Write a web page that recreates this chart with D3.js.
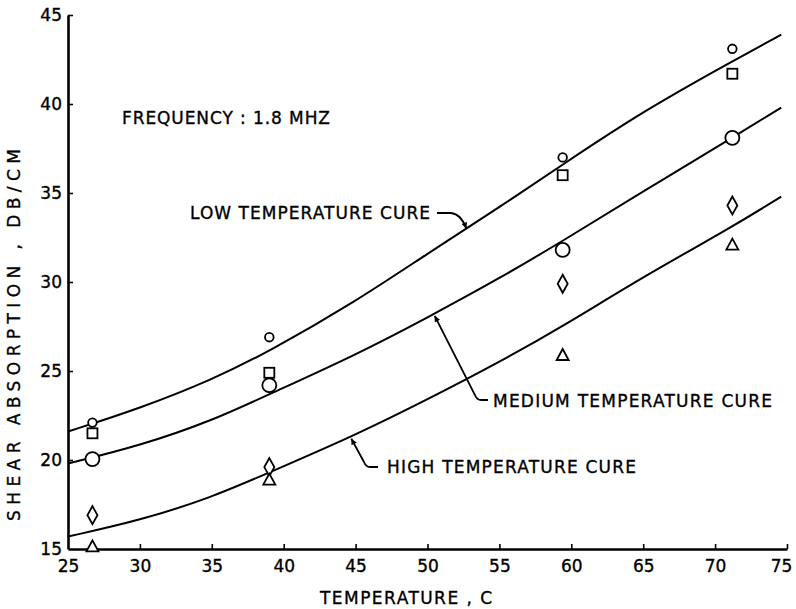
<!DOCTYPE html>
<html>
<head>
<meta charset="utf-8">
<script src="https://cdn.jsdelivr.net/npm/d3@7"></script>
<style>
  body { margin: 0; background: #fff; }
  svg { display: block; }
  text { font-family: "DejaVu Sans", "Liberation Sans", Arial, sans-serif; fill: #000; stroke: #000; stroke-width: 0.35px; }
</style>
</head>
<body>
<div id="chart"></div>
<script>
// measured points (temperature, C)
var temps = [26.7, 39, 59.4, 71.2];
var smallCircle = [22.1, 26.9, 37.0, 43.1];
var square = [21.5, 24.9, 36.0, 41.7];
var bigCircle = [20.05, 24.2, 31.8, 38.1];
var diamond = [16.9, 19.6, 29.9, 34.3];
var triangle = [15.15, 18.9, 25.9, 32.1];

// fitted curves
var curveT = [25, 30, 35, 39, 45, 50, 55, 59.4, 65, 71.2, 74.6];
var lowCurve = [21.6, 22.9, 24.5, 26.1, 28.9, 31.6, 34.2, 36.6, 39.6, 42.4, 43.9];
var medCurve = [19.8, 20.8, 22.2, 23.7, 25.9, 28.0, 30.2, 32.3, 35.1, 38.1, 39.8];
var highCurve = [15.7, 16.6, 17.9, 19.3, 21.4, 23.4, 25.5, 27.5, 30.3, 33.1, 34.8];

var xTicks = [25, 30, 35, 40, 45, 50, 55, 60, 65, 70, 75];
var yTicks = [15, 20, 25, 30, 35, 40, 45];

var W = 796, H = 609;
var svg = d3.select("#chart").append("svg")
    .attr("width", W)
    .attr("height", H);

var x = d3.scaleLinear().domain([25, 75]).range([68, 787]);
var y = d3.scaleLinear().domain([15, 45]).range([549, 15]);

// arrowhead
svg.append("defs").append("marker")
    .attr("id", "arr")
    .attr("viewBox", "0 0 10 10")
    .attr("refX", 10).attr("refY", 5)
    .attr("markerWidth", 9).attr("markerHeight", 6)
    .attr("markerUnits", "userSpaceOnUse")
    .attr("orient", "auto")
    .append("path")
    .attr("d", "M0,0 L10,5 L0,10 Z")
    .attr("fill", "#000");

// axes
var xAxis = svg.append("g")
    .attr("transform", `translate(0, ${y(15)})`)
    .call(d3.axisBottom(x).tickValues(xTicks).tickSize(-5).tickSizeOuter(0).tickPadding(11));
var yAxis = svg.append("g")
    .attr("transform", `translate(${x(25)}, 0)`)
    .call(d3.axisLeft(y).tickValues(yTicks).tickSize(-5).tickSizeOuter(0).tickPadding(6));

[xAxis, yAxis].forEach(a => {
    a.select(".domain").attr("stroke", "#000").attr("stroke-width", 2.6);
    a.selectAll(".tick line").attr("stroke", "#000").attr("stroke-width", 1.6);
    a.selectAll(".tick text")
        .style("font-family", "'DejaVu Sans', sans-serif")
        .style("font-size", "17px");
});
xAxis.selectAll(".tick").filter(d => d == 25).select("line").remove();
yAxis.selectAll(".tick").filter(d => d == 15).select("line").remove();
xAxis.selectAll(".tick").filter(d => d == 75).select("text").attr("dx", -6);

// axis titles
svg.append("text")
    .attr("x", 406).attr("y", 604)
    .attr("text-anchor", "middle")
    .attr("textLength", 172)
    .style("font-size", "17px")
    .text("TEMPERATURE , C");

svg.append("g")
    .attr("transform", `translate(20, 335)`)
    .append("text")
    .attr("transform", "rotate(-90)")
    .attr("text-anchor", "middle")
    .attr("textLength", 372)
    .style("font-size", "17px")
    .text("SHEAR  ABSORPTION , DB/CM");

// curves
var line = d3.line()
    .x(d => x(d[0]))
    .y(d => y(d[1]))
    .curve(d3.curveBasis);

[lowCurve, medCurve, highCurve].forEach(c => {
    svg.append("path")
        .datum(curveT.map((t, i) => [t, c[i]]))
        .attr("d", line)
        .attr("fill", "none")
        .attr("stroke", "#000")
        .attr("stroke-width", 2);
});

// markers
var marks = svg.append("g")
    .attr("fill", "#fff")
    .attr("stroke", "#000")
    .attr("stroke-width", 1.8);

function pts(vals) { return temps.map((t, i) => [x(t), y(vals[i])]); }

marks.selectAll(".sc").data(pts(smallCircle)).enter().append("circle")
    .attr("cx", d => d[0]).attr("cy", d => d[1]).attr("r", 4.3);

marks.selectAll(".sq").data(pts(square)).enter().append("rect")
    .attr("x", d => d[0] - 5).attr("y", d => d[1] - 5)
    .attr("width", 10).attr("height", 10);

marks.selectAll(".bc").data(pts(bigCircle)).enter().append("circle")
    .attr("cx", d => d[0]).attr("cy", d => d[1]).attr("r", 7);

marks.selectAll(".di").data(pts(diamond)).enter().append("path")
    .attr("d", d => `M${d[0]},${d[1] - 9} L${d[0] + 5},${d[1]} L${d[0]},${d[1] + 9} L${d[0] - 5},${d[1]} Z`);

marks.selectAll(".tr").data(pts(triangle)).enter().append("path")
    .attr("d", d => `M${d[0]},${d[1] - 6} L${d[0] + 6},${d[1] + 5} L${d[0] - 6},${d[1] + 5} Z`);

// annotations
svg.append("text")
    .attr("x", 122).attr("y", 124)
    .attr("textLength", 208)
    .style("font-size", "17px")
    .text("FREQUENCY : 1.8 MHZ");

var lowTip = [x(52.7), y(33.0)];
svg.append("text")
    .attr("x", 190).attr("y", 219)
    .attr("textLength", 240)
    .style("font-size", "17px")
    .text("LOW TEMPERATURE CURE");
svg.append("path")
    .attr("d", `M437,213 L451,213 Q461,214 ${lowTip[0]},${lowTip[1]}`)
    .attr("fill", "none").attr("stroke", "#000").attr("stroke-width", 1.8)
    .attr("marker-end", "url(#arr)");

var medTip = [x(50.5), y(28.1)];
svg.append("text")
    .attr("x", 493).attr("y", 407)
    .attr("textLength", 279)
    .style("font-size", "17px")
    .text("MEDIUM  TEMPERATURE CURE");
svg.append("path")
    .attr("d", `M488,400 L481,400 Q477,400 475,395 L${medTip[0]},${medTip[1]}`)
    .attr("fill", "none").attr("stroke", "#000").attr("stroke-width", 1.8)
    .attr("marker-end", "url(#arr)");

var highTip = [x(44.7), y(21.2)];
svg.append("text")
    .attr("x", 387).attr("y", 473)
    .attr("textLength", 249)
    .style("font-size", "17px")
    .text("HIGH TEMPERATURE CURE");
svg.append("path")
    .attr("d", `M378,467 L370,467 Q366,467 364,462 L${highTip[0]},${highTip[1]}`)
    .attr("fill", "none").attr("stroke", "#000").attr("stroke-width", 1.8)
    .attr("marker-end", "url(#arr)");
</script>
</body>
</html>
